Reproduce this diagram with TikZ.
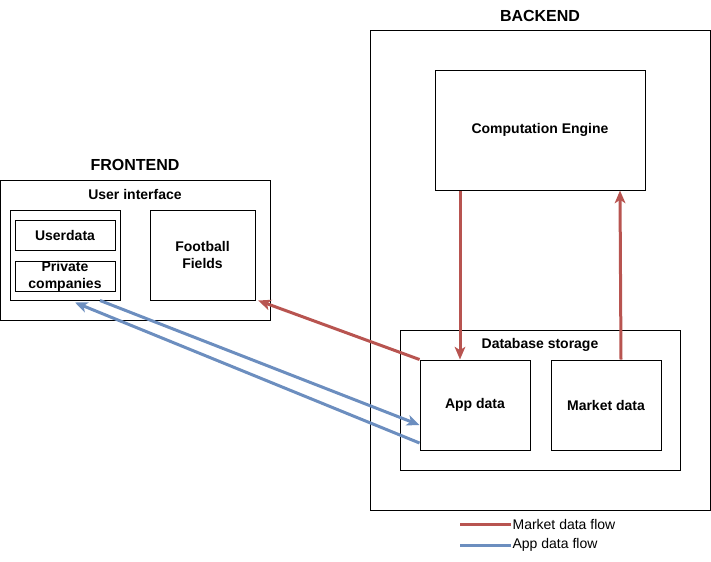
\documentclass[tikz,border=0pt]{standalone}
\usepackage{fontspec}
\setmainfont{Liberation Sans}
\usepackage{tikz}
\usetikzlibrary{arrows.meta}
\usetikzlibrary{shapes}
\usetikzlibrary{positioning}
\definecolor{flowred}{RGB}{184, 84, 80}
\definecolor{flowblue}{RGB}{108, 142, 191}
\begin{document}
\begin{tikzpicture}[%
    x=0.75pt, y=-0.75pt,        % pixel grid, y going down
    >={Stealth[length=9.5pt,width=8pt,inset=2.5pt]},
    font=\fontsize{10.5}{12.75}\selectfont,
    ]
% -------------------------------------------------
% A few box styles
\tikzset{
  base/.style={draw, line width=0.75pt, align=center, inner sep=0pt},
  grp/.style={base, rectangle},
  part/.style={base, rectangle, font=\fontsize{10.5}{12.75}\selectfont\bfseries},
  title/.style={font=\fontsize{12}{14}\selectfont\bfseries},
  txt/.style={draw=none, font=\fontsize{10.5}{12}\selectfont\bfseries},
  % -------------------------------------------------
  mflow/.style={->, draw=flowred, fill=flowred, line width=2.25pt},
  aflow/.style={->, draw=flowblue, fill=flowblue, line width=2.25pt},
  legtxt/.style={anchor=west, inner sep=1pt, font=\fontsize{10.5}{12}\selectfont}
  }
\useasboundingbox (0,0) rectangle (711,561);
% -------------------------------------------------
% Backend side
\node [grp, minimum width=255pt, minimum height=360pt] (be) at (540,270) {};
\node [title] (betitle) at (540,16) {BACKEND};
\node [part, minimum width=157.5pt, minimum height=90pt] (comp) at (540,130) {Computation Engine};
\node [grp, minimum width=210pt, minimum height=105pt] (db) at (540,400) {};
\node [txt] (dbtitle) at (540,345) {Database storage};
\node [part, minimum width=82.5pt, minimum height=67.5pt] (app) at (475,405) {App data};
\node [part, minimum width=82.5pt, minimum height=67.5pt, right=15pt of app] (mkt) {Market data};

% Frontend side
\node [grp, minimum width=202.5pt, minimum height=105pt] (fe) at (135,250) {};
\node [title] (fetitle) at (135,165) {FRONTEND};
\node [txt] (ui) at (135,194) {User interface};
\node [grp, minimum width=82.5pt, minimum height=67.5pt] (inner) at (65,255) {};
\node [part, minimum width=75pt, minimum height=22.5pt] (user) at (65,235) {Userdata};
\node [part, minimum width=75pt, minimum height=22.5pt, below=7.5pt of user] (priv) {Private\\companies};
\node [part, minimum width=78.75pt, minimum height=67.5pt] (foot) at (202.5,255) {Football\\Fields};

% -------------------------------------------------
% Flows
\draw [mflow] ([xshift=-60pt]comp.south) -- ([xshift=-11.25pt]app.north);
\draw [mflow] ([xshift=11.25pt]mkt.north) -- ([xshift=60pt]comp.south);
\draw [mflow] (app.north west) -- ([xshift=2pt]foot.south east);
\draw [aflow] ([xshift=26.25pt]inner.south) -- ([yshift=-15pt]app.west);
\draw [aflow] ([yshift=-28.5pt]app.west) -- ([xshift=7.5pt,yshift=-1.5pt]inner.south);

% -------------------------------------------------
% Legend
\coordinate (mleg) at (460,524);
\coordinate (aleg) at (460,545);
\node [legtxt] (mtxt) at (511,524) {Market data flow};
\node [legtxt] (atxt) at (511,545) {App data flow};
\draw [draw=flowred, line width=2.25pt] (mleg) -- (mtxt.west);
\draw [draw=flowblue, line width=2.25pt] (aleg) -- (atxt.west);
\end{tikzpicture}
\end{document}
